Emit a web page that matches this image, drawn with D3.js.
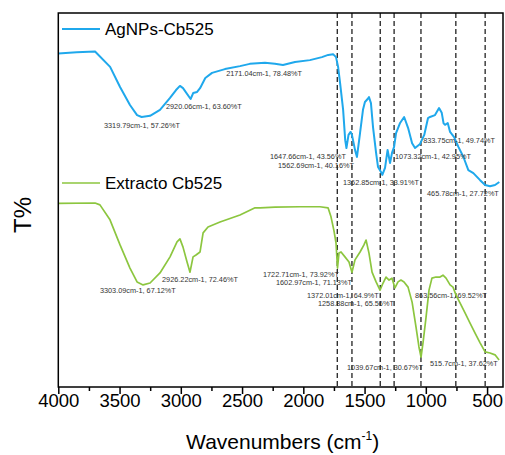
<!DOCTYPE html>
<html>
<head>
<meta charset="utf-8">
<script src="https://cdn.jsdelivr.net/npm/d3@7"></script>
<style>
  body { margin: 0; background: #fff; }
  svg { display: block; font-family: "Liberation Sans", Arial, sans-serif; }
</style>
</head>
<body>
<svg id="chart" width="505" height="455"></svg>
<script>
// wavenumber (cm-1) and offset transmittance (a.u.)
const agWn = [4000, 3850, 3700, 3577, 3496, 3415, 3357, 3320, 3251, 3170, 3088, 3039, 3007, 2982, 2920, 2899, 2867, 2843, 2800, 2745, 2640, 2517, 2437, 2313, 2232, 2166, 2068, 1946, 1848, 1797, 1757, 1733, 1716, 1700, 1675, 1658, 1648, 1631, 1614, 1603, 1578, 1562, 1537, 1513, 1497, 1475, 1464, 1448, 1431, 1406, 1390, 1366, 1355, 1333, 1312, 1292, 1276, 1259, 1243, 1210, 1177, 1145, 1112, 1088, 1047, 1013, 982, 966, 925, 892, 870, 855, 843, 821, 802, 769, 734, 693, 653, 612, 557, 516, 476, 435, 400];
const agT = [89.2, 89.5, 89.7, 85.6, 80.2, 75.4, 72.7, 72.2, 72.5, 74.1, 77.3, 79.4, 80.5, 79.9, 77.0, 78.6, 78.9, 79.9, 82.6, 84.0, 85.0, 85.8, 86.4, 86.7, 86.4, 86.1, 86.9, 87.4, 88.2, 88.8, 89.0, 88.2, 85.6, 81.3, 74.1, 66.0, 63.9, 67.4, 68.2, 67.4, 63.4, 61.5, 67.9, 74.1, 76.2, 77.0, 77.5, 75.9, 69.5, 62.6, 58.8, 57.5, 56.7, 58.6, 63.4, 59.9, 62.6, 64.2, 67.9, 70.6, 72.2, 69.3, 65.2, 63.9, 65.0, 67.4, 71.9, 72.2, 72.7, 74.6, 73.3, 70.5, 70.1, 70.6, 68.2, 66.8, 64.2, 61.5, 58.0, 57.2, 55.3, 54.0, 53.7, 54.0, 54.8];

const exWn = [4000, 3700, 3660, 3578, 3496, 3415, 3357, 3308, 3251, 3170, 3088, 3031, 3007, 2982, 2949, 2925, 2900, 2876, 2843, 2818, 2778, 2680, 2517, 2394, 2353, 2231, 2027, 1864, 1798, 1774, 1750, 1733, 1721, 1709, 1692, 1660, 1627, 1603, 1578, 1537, 1505, 1488, 1464, 1439, 1406, 1374, 1349, 1325, 1300, 1276, 1252, 1227, 1203, 1178, 1145, 1112, 1080, 1056, 1039, 1023, 998, 974, 950, 917, 884, 860, 835, 802, 778, 754, 721, 680, 639, 598, 557, 516, 476, 435, 402];
const exT = [49.1, 49.2, 48.7, 44.7, 38.0, 31.8, 28.1, 27.3, 27.8, 30.5, 34.8, 38.8, 39.6, 37.4, 33.4, 30.7, 34.8, 35.3, 36.1, 41.2, 42.8, 44.1, 46.0, 47.9, 47.9, 48.1, 48.2, 48.2, 47.9, 45.5, 41.8, 38.5, 31.8, 35.8, 36.1, 34.8, 33.4, 30.7, 34.0, 36.1, 38.0, 39.3, 35.8, 30.7, 28.1, 25.9, 27.8, 29.4, 28.6, 29.1, 26.5, 28.1, 28.6, 28.1, 26.7, 22.7, 16.0, 10.7, 8.0, 11.8, 18.7, 25.9, 29.1, 29.4, 29.4, 29.9, 29.1, 27.3, 26.7, 24.6, 22.5, 19.8, 17.1, 14.4, 11.8, 9.4, 9.1, 8.6, 7.2];

const seriesNames = ["AgNPs-Cb525", "Extracto Cb525"];
const xTicks = [4000, 3500, 3000, 2500, 2000, 1500, 1000, 500];
const xMinor = [3750, 3250, 2750, 2250, 1750, 1250, 750];
const markerWn = [1722.71, 1602.97, 1372.01, 1258.88, 1039.67, 755, 515.7];

// peak labels: text, and where the text starts (wavenumber, level)
const peakText = [
  "3319.79cm-1, 57.26%T", "2920.06cm-1, 63.60%T", "2171.04cm-1, 78.48%T",
  "1647.66cm-1, 43.56%T", "1562.69cm-1, 40.16%T", "1362.85cm-1, 33.91%T",
  "1073.32cm-1, 42.95%T", "833.75cm-1, 49.74%T", "465.78cm-1, 27.72%T",
  "3303.09cm-1, 67.12%T", "2926.22cm-1, 72.46%T", "1722.71cm-1, 73.92%T",
  "1602.97cm-1, 71.13%T", "1372.01cm-1, 64.9%T", "1258.88cm-1, 65.56%T",
  "863.56cm-1, 69.52%T", "1039.67cm-1, 30.67%T", "515.7cm-1, 37.62%T"
];
const peakTextWn = [3627, 3121, 2630, 2272, 2206, 1676, 1251, 1022, 990, 3660, 3153, 2329, 2223, 1970, 1880, 1088, 1643, 966];
const peakTextLevel = [69.3, 74.3, 83.2, 61.0, 58.6, 54.0, 61.0, 65.2, 51.1, 25.1, 28.1, 29.4, 27.3, 23.8, 21.7, 23.8, 4.5, 5.6];

const colors = ["#1fa8ec", "#8cc63f"];

const svg = d3.select("#chart");
const plotL = 58.3, plotR = 503, plotT = 13, plotB = 387;

const x = d3.scaleLinear().domain([4000, 370]).range([plotL, plotR]);
const y = d3.scaleLinear().domain([0, 100]).range([plotB, plotT]);

// dashed marker lines
svg.append("g").selectAll("line").data(markerWn).join("line")
  .attr("x1", d => x(d)).attr("x2", d => x(d))
  .attr("y1", plotT).attr("y2", plotB)
  .attr("stroke", "#222").attr("stroke-width", 1.3)
  .attr("stroke-dasharray", "5,3");

const line = d3.line().x(d => x(d[0])).y(d => y(d[1]));
const series = [d3.zip(agWn, agT), d3.zip(exWn, exT)];

svg.append("g").selectAll("path").data(series).join("path")
  .attr("d", line)
  .attr("fill", "none")
  .attr("stroke", (d, i) => colors[i])
  .attr("stroke-width", (d, i) => i === 0 ? 2 : 1.7)
  .attr("stroke-linejoin", "round");

// peak annotations
svg.append("g").selectAll("text").data(peakText).join("text")
  .attr("x", (d, i) => x(peakTextWn[i]))
  .attr("y", (d, i) => y(peakTextLevel[i]))
  .attr("font-size", "7.3px")
  .attr("fill", "#333")
  .text(d => d);

// frame
svg.append("rect")
  .attr("x", plotL).attr("y", plotT)
  .attr("width", plotR - plotL).attr("height", plotB - plotT)
  .attr("fill", "none").attr("stroke", "#000").attr("stroke-width", 1.5);

// x axis
const xAxis = svg.append("g").attr("transform", `translate(0,${plotB})`)
  .call(d3.axisBottom(x).tickValues(xTicks).tickFormat(d3.format("d"))
    .tickSize(7).tickSizeOuter(0).tickPadding(0));
xAxis.select(".domain").remove();
xAxis.selectAll(".tick line").attr("stroke-width", 1.5);
xAxis.selectAll("text").attr("font-size", "18.5px").attr("fill", "#000");

const xAxisMinor = svg.append("g").attr("transform", `translate(0,${plotB})`)
  .call(d3.axisBottom(x).tickValues(xMinor).tickSize(4).tickSizeOuter(0).tickFormat(""));
xAxisMinor.select(".domain").remove();
xAxisMinor.selectAll(".tick line").attr("stroke-width", 1.5);

// axis titles
const xt = svg.append("text")
  .attr("x", (plotL + plotR) / 2 + 2).attr("y", 449)
  .attr("text-anchor", "middle").attr("font-size", "21px").attr("fill", "#000");
xt.append("tspan").text("Wavenumbers (cm");
xt.append("tspan").attr("font-size", "12px").attr("dy", -9).text("-1");
xt.append("tspan").attr("dy", 9).text(")");

svg.append("text")
  .attr("transform", "translate(31,215) rotate(-90)")
  .attr("text-anchor", "middle").attr("font-size", "24px").attr("fill", "#000")
  .text("T%");

// legends
const legendY = [29, 183];
const legend = svg.append("g").selectAll("g").data(seriesNames).join("g")
  .attr("transform", (d, i) => `translate(62,${legendY[i]})`);
legend.append("line")
  .attr("x1", 0).attr("x2", 38)
  .attr("stroke", (d, i) => colors[i]).attr("stroke-width", (d, i) => i === 0 ? 2 : 1.5);
legend.append("text")
  .attr("x", 43).attr("y", 6)
  .attr("font-size", "17px").attr("fill", "#000")
  .text(d => d);
</script>
</body>
</html>
